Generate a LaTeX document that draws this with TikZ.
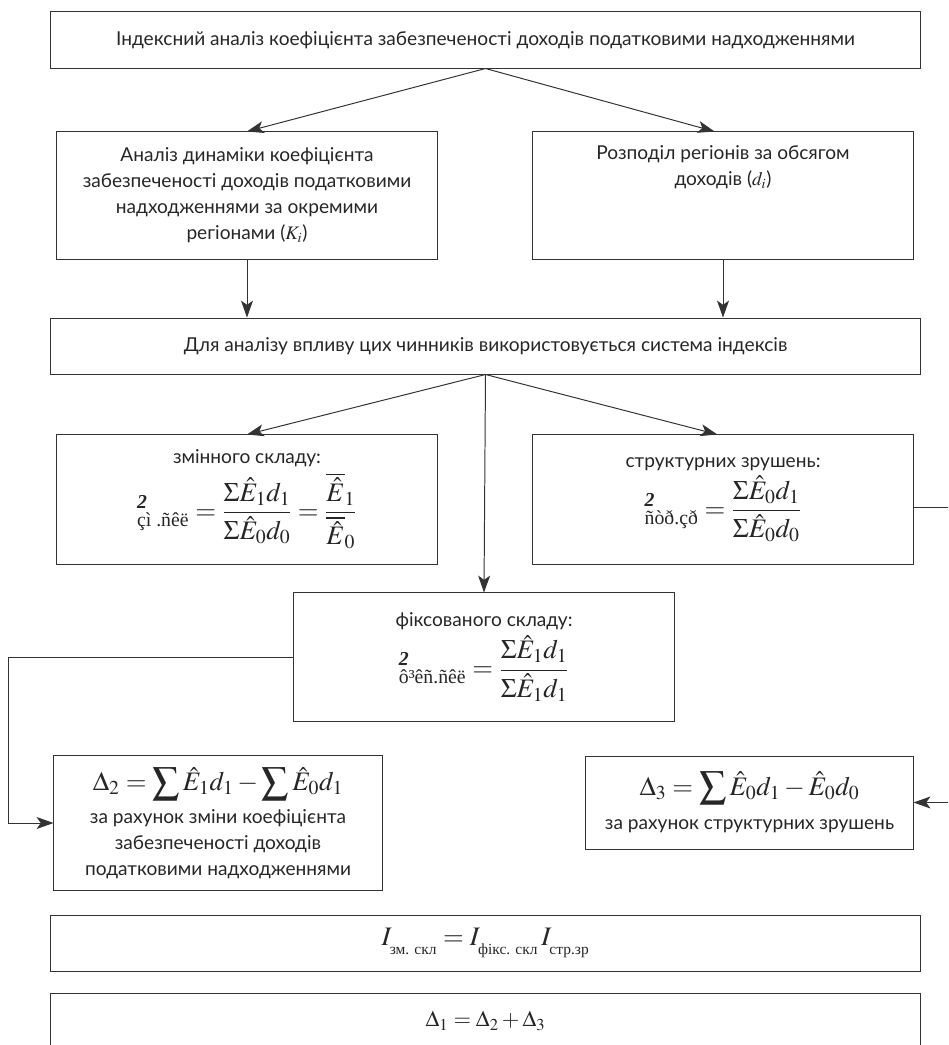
\documentclass[tikz,border=0pt]{standalone}
\usepackage{amsmath}
\usepackage{mathptmx}
\usepackage[no-math]{fontspec}
\setmainfont{Lato}
\newfontfamily\timesfont{Liberation Serif}
\usepackage{tikz}
\usetikzlibrary{arrows.meta,calc,positioning}
\tikzset{%
	block/.style = {draw=black!80, line width=0.7pt, rectangle, align=center, inner sep=2pt, text=black!85},
	wide/.style  = {block, minimum width=21.725cm, minimum height=1.4cm},
	half/.style  = {block, minimum width=9.5cm, minimum height=3.2cm},
	arrow/.style = {line width=0.7pt, draw=black!80, -{Stealth[length=12pt,width=8.5pt,inset=3pt]}},
}
\newcommand{\frm}[1]{{\fontsize{19}{22}\selectfont$\displaystyle #1$}}
\newcommand{\sbt}[1]{\text{\timesfont #1}}
\newcommand{\sbi}[1]{\text{\raisebox{-4pt}{\timesfont\fontsize{11}{11}\selectfont #1}}}
\begin{document}
\begin{tikzpicture}[x=0.025cm,y=-0.025cm,font=\fontsize{13.6}{18.5}\selectfont]
	\useasboundingbox (0,0) rectangle (948,1045);
	\clip (0,0) rectangle (948,1045);
	
	\node[wide] (top) at (485.5,40) {Індексний аналіз коефіцієнта забезпеченості доходів податковими надходженнями};
	\node[half, minimum height=3.175cm] (dyn) at (247,195.5) {Аналіз динаміки коефіцієнта\\забезпеченості доходів податковими\\надходженнями за окремими\\регіонами ($K_i$)};
	\node[half, minimum height=3.175cm] (dist) at (723,195.5) {Розподіл регіонів за обсягом\\доходів ($d_i$)\\ \strut\\ \strut};
	\node[wide] (sys) at (485.5,346) {Для аналізу впливу цих чинників використовується система індексів};
	
	\node[half, minimum height=3.225cm] (var) at (247,499.5) {змінного складу:\\[3pt] \frm{{}^{\text{\timesfont\bfseries\itshape 2}}_{\sbt{çì\ .ñêë}} = \frac{\Sigma\hat{E}_1 d_1}{\Sigma\hat{E}_0 d_0} = \frac{\overline{\hat{E}}{}_1}{\overline{\hat{E}}{}_0}}};
	\node[half, minimum height=3.225cm] (str) at (723,499.5) {структурних зрушень:\\[3pt] \frm{{}^{\text{\timesfont\bfseries\itshape 2}}_{\sbt{ñòð.çð}} = \frac{\Sigma\hat{E}_0 d_1}{\Sigma\hat{E}_0 d_0}}};
	\node[half] (fix) at (484,657) {фіксованого складу:\\[3pt] \frm{{}^{\text{\timesfont\bfseries\itshape 2}}_{\sbt{ô³êñ.ñêë}} = \frac{\Sigma\hat{E}_1 d_1}{\Sigma\hat{E}_1 d_1}}};
	
	\node[block, minimum width=8.2cm, minimum height=3.35cm] (dtwo) at (218,823) {\frm{\Delta_2 = \sum\hat{E}_1 d_1 - \sum\hat{E}_0 d_1}\\[5pt] за рахунок зміни коефіцієнта\\ забезпеченості доходів\\ податковими надходженнями};
	\node[block, minimum width=8.175cm, minimum height=2.325cm] (dthree) at (749.5,802.5) {\frm{\Delta_3 = \sum\hat{E}_0 d_1 - \hat{E}_0 d_0}\\[6pt] за рахунок структурних зрушень};
	
	\node[wide] (idx) at (485.5,943) {\frm{I_{\sbi{зм. скл}} = I_{\sbi{фікс. скл}}\,I_{\sbi{стр.зр}}}};
	\node[wide] (dsum) at (485.5,1021) {{\fontsize{16}{20}\selectfont$\Delta_1 = \Delta_2 + \Delta_3$}};
	
	\draw[arrow] (top.south) -- (dyn.north);
	\draw[arrow] (top.south) -- ([xshift=-6pt]dist.north);
	\draw[arrow] (dyn.south) -- (dyn.south |- sys.north);
	\draw[arrow] (dist.south) -- (dist.south |- sys.north);
	
	\draw[arrow] (sys.south) -- (var.north);
	\draw[arrow] (sys.south) -- ([xshift=-4pt]str.north);
	\draw[arrow] (sys.south) -- (fix.north);
	
	\draw[arrow] ([yshift=-5.7pt]str.east) -- ++(45,0) |- (dthree.east);
	\draw[arrow] (fix.west) -- ++(-285,0) |- (dtwo.west);
\end{tikzpicture}
\end{document}
